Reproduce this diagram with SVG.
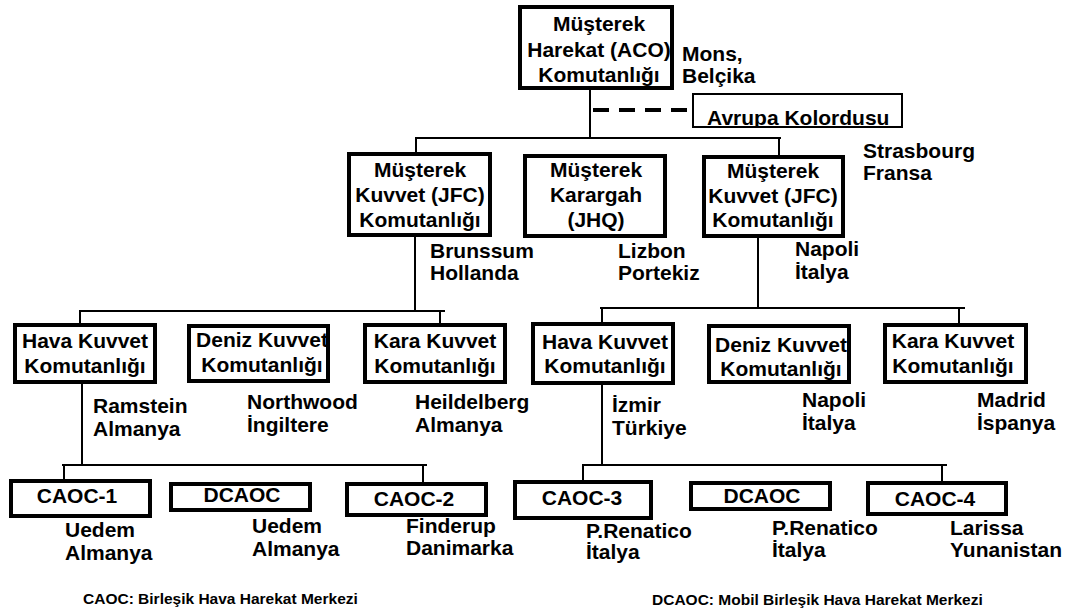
<svg xmlns="http://www.w3.org/2000/svg" width="1075" height="613" viewBox="0 0 1075 613">
<defs>
<style>
.bx{fill:#fff;stroke:#000;stroke-width:4}
.t{font-family:"Liberation Sans",Arial,sans-serif;font-weight:bold;font-size:21px;fill:#000}
.lg{font-family:"Liberation Sans",Arial,sans-serif;font-weight:bold;font-size:15.5px;fill:#000}
.c{text-anchor:middle}
.ln{stroke:#000;stroke-width:2;fill:none}
.dash{stroke:#000;stroke-width:4;fill:none;stroke-dasharray:16 10}
</style>
<clipPath id="avclip"><rect x="693" y="94" width="209" height="32"/></clipPath>
</defs>
<rect width="1075" height="613" fill="#fff"/>
<g id="connectors">
<line class="ln" x1="590" y1="90" x2="590" y2="138"/>
<line class="dash" x1="593" y1="110" x2="688" y2="110"/>
<line class="ln" x1="415" y1="138" x2="781" y2="138"/>
<line class="ln" x1="416" y1="138" x2="416" y2="153"/>
<line class="ln" x1="779" y1="138" x2="779" y2="156"/>
<line class="ln" x1="415" y1="237" x2="415" y2="311"/>
<line class="ln" x1="79" y1="311" x2="445" y2="311"/>
<line class="ln" x1="80" y1="311" x2="80" y2="324"/>
<line class="ln" x1="440" y1="311" x2="440" y2="324"/>
<line class="ln" x1="758" y1="238" x2="758" y2="308"/>
<line class="ln" x1="600" y1="308" x2="965" y2="308"/>
<line class="ln" x1="602" y1="308" x2="602" y2="323"/>
<line class="ln" x1="959" y1="308" x2="959" y2="324"/>
<line class="ln" x1="82" y1="384" x2="82" y2="465"/>
<line class="ln" x1="62" y1="465" x2="427" y2="465"/>
<line class="ln" x1="64" y1="465" x2="64" y2="480"/>
<line class="ln" x1="423" y1="465" x2="423" y2="483"/>
<line class="ln" x1="602" y1="385" x2="602" y2="465"/>
<line class="ln" x1="582" y1="465" x2="947" y2="465"/>
<line class="ln" x1="583" y1="465" x2="583" y2="481"/>
<line class="ln" x1="942" y1="465" x2="942" y2="482"/>
</g>
<g id="aco">
<rect class="bx" x="520" y="7" width="152" height="81"/>
<text class="t c" x="599" y="31">Müşterek</text>
<text class="t c" x="599" y="57">Harekat (ACO)</text>
<text class="t c" x="599" y="82">Komutanlığı</text>
<text class="t" x="682" y="61">Mons,</text>
<text class="t" x="682" y="83">Belçika</text>
</g>
<g id="avrupa">
<text class="t" x="707" y="125" clip-path="url(#avclip)">Avrupa Kolordusu</text>
<rect x="693" y="94" width="209" height="33" fill="none" stroke="#000" stroke-width="2"/>
<text class="t" x="863" y="158">Strasbourg</text>
<text class="t" x="863" y="180">Fransa</text>
</g>
<g id="jfc-brunssum">
<rect class="bx" x="349" y="154" width="141" height="81"/>
<text class="t c" x="420" y="177">Müşterek</text>
<text class="t c" x="420" y="202">Kuvvet (JFC)</text>
<text class="t c" x="420" y="227">Komutanlığı</text>
<text class="t" x="430" y="258">Brunssum</text>
<text class="t" x="430" y="280">Hollanda</text>
</g>
<g id="jhq">
<rect class="bx" x="525" y="156" width="140" height="80"/>
<text class="t c" x="596" y="177">Müşterek</text>
<text class="t c" x="596" y="202">Karargah</text>
<text class="t c" x="596" y="227">(JHQ)</text>
<text class="t" x="618" y="258">Lizbon</text>
<text class="t" x="618" y="280">Portekiz</text>
</g>
<g id="jfc-napoli">
<rect class="bx" x="704" y="157" width="139" height="79"/>
<text class="t c" x="773" y="178">Müşterek</text>
<text class="t c" x="773" y="203">Kuvvet (JFC)</text>
<text class="t c" x="773" y="227">Komutanlığı</text>
<text class="t" x="795" y="256">Napoli</text>
<text class="t" x="795" y="279">İtalya</text>
</g>
<g id="hava-ramstein">
<rect class="bx" x="15" y="325" width="140" height="57"/>
<text class="t c" x="85" y="348">Hava Kuvvet</text>
<text class="t c" x="85" y="373">Komutanlığı</text>
<text class="t" x="93" y="413">Ramstein</text>
<text class="t" x="93" y="436">Almanya</text>
</g>
<g id="deniz-northwood">
<rect class="bx" x="189" y="326" width="139" height="55"/>
<text class="t c" x="262" y="347">Deniz Kuvvet</text>
<text class="t c" x="262" y="372">Komutanlığı</text>
<text class="t" x="247" y="409">Northwood</text>
<text class="t" x="247" y="432">İngiltere</text>
</g>
<g id="kara-heidelberg">
<rect class="bx" x="365" y="325" width="140" height="57"/>
<text class="t c" x="435" y="348">Kara Kuvvet</text>
<text class="t c" x="435" y="373">Komutanlığı</text>
<text class="t" x="415" y="409">Heildelberg</text>
<text class="t" x="415" y="432">Almanya</text>
</g>
<g id="hava-izmir">
<rect class="bx" x="533" y="324" width="140" height="59"/>
<text class="t c" x="605" y="349">Hava Kuvvet</text>
<text class="t c" x="605" y="373">Komutanlığı</text>
<text class="t" x="612" y="412">İzmir</text>
<text class="t" x="612" y="435">Türkiye</text>
</g>
<g id="deniz-napoli">
<rect class="bx" x="709" y="326" width="140" height="56"/>
<text class="t c" x="781" y="352">Deniz Kuvvet</text>
<text class="t c" x="781" y="376">Komutanlığı</text>
<text class="t" x="802" y="407">Napoli</text>
<text class="t" x="802" y="430">İtalya</text>
</g>
<g id="kara-madrid">
<rect class="bx" x="885" y="325" width="141" height="57"/>
<text class="t c" x="953" y="348">Kara Kuvvet</text>
<text class="t c" x="953" y="373">Komutanlığı</text>
<text class="t" x="977" y="407">Madrid</text>
<text class="t" x="977" y="430">İspanya</text>
</g>
<g id="caoc1">
<rect class="bx" x="11" y="481" width="139" height="35"/>
<text class="t c" x="77" y="503">CAOC-1</text>
<text class="t" x="65" y="537">Uedem</text>
<text class="t" x="65" y="560">Almanya</text>
</g>
<g id="dcaoc-uedem">
<rect class="bx" x="171" y="484" width="139" height="26"/>
<text class="t c" x="242" y="502">DCAOC</text>
<text class="t" x="252" y="533">Uedem</text>
<text class="t" x="252" y="556">Almanya</text>
</g>
<g id="caoc2">
<rect class="bx" x="347" y="484" width="139" height="31"/>
<text class="t c" x="414" y="506">CAOC-2</text>
<text class="t" x="406" y="533">Finderup</text>
<text class="t" x="406" y="555">Danimarka</text>
</g>
<g id="caoc3">
<rect class="bx" x="515" y="482" width="136" height="36"/>
<text class="t c" x="582" y="505">CAOC-3</text>
<text class="t" x="586" y="538">P.Renatico</text>
<text class="t" x="586" y="559">İtalya</text>
</g>
<g id="dcaoc-renatico">
<rect class="bx" x="691" y="483" width="139" height="26"/>
<text class="t c" x="762" y="503">DCAOC</text>
<text class="t" x="772" y="535">P.Renatico</text>
<text class="t" x="772" y="557">İtalya</text>
</g>
<g id="caoc4">
<rect class="bx" x="868" y="483" width="138" height="31"/>
<text class="t c" x="935" y="506">CAOC-4</text>
<text class="t" x="950" y="535">Larissa</text>
<text class="t" x="950" y="557">Yunanistan</text>
</g>
<g id="legend">
<text class="lg" x="83" y="604">CAOC: Birleşik Hava Harekat Merkezi</text>
<text class="lg" x="652" y="605">DCAOC: Mobil Birleşik Hava Harekat Merkezi</text>
</g>
</svg>
